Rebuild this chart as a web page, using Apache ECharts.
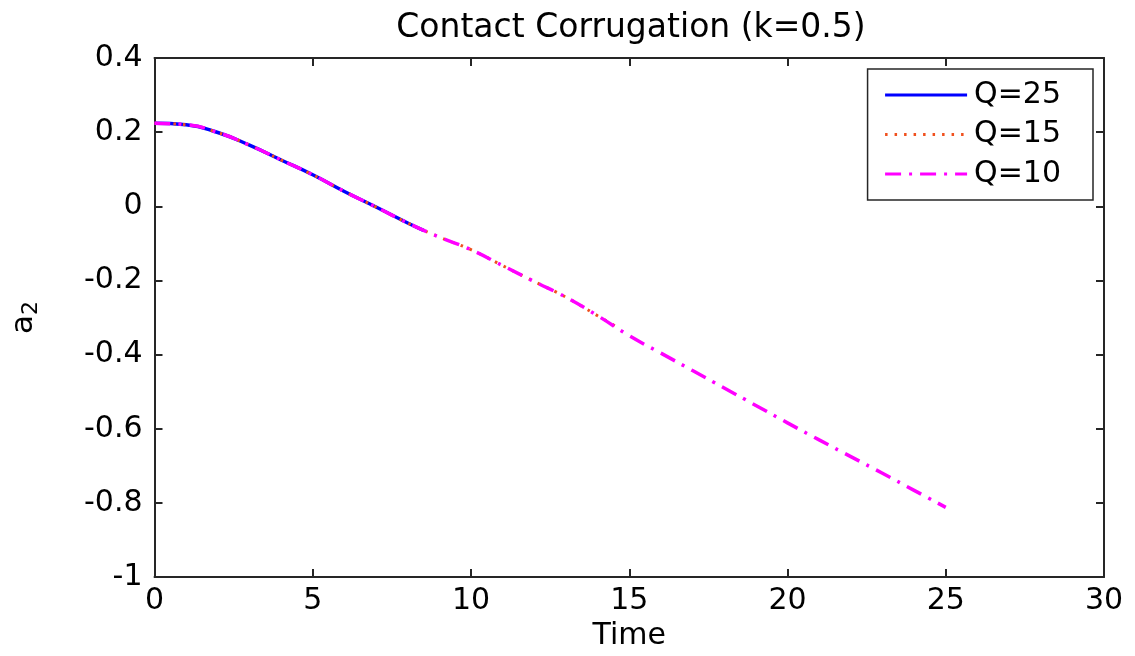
<!DOCTYPE html>
<html>
<head>
<meta charset="utf-8">
<title>Contact Corrugation</title>
<script src="https://cdn.jsdelivr.net/npm/echarts@6/dist/echarts.min.js"></script>
<style>
  html, body { margin: 0; padding: 0; background: #fff; }
  #chart { width: 1135px; height: 656px; }
</style>
</head>
<body>
<div id="chart"></div>
<script>
// values
var timeQ25 = [0, 1, 2, 3, 4, 5, 6, 7, 8, 8.5]
var a2Q25 = [0.224, 0.220, 0.199, 0.165, 0.125, 0.085, 0.040, -0.002, -0.045, -0.065]

var timeQ15 = [0, 1, 2, 3, 4, 5, 6, 7, 8, 9, 10, 11, 12, 13, 14, 14.7]
var a2Q15 = [0.224, 0.220, 0.199, 0.165, 0.125, 0.085, 0.040, -0.002, -0.045, -0.083,
  -0.117, -0.160, -0.203, -0.245, -0.295, -0.330]

var timeQ10 = [0, 1, 2, 3, 4, 5, 6, 7, 8, 9, 10, 11, 12, 13, 14, 15, 16, 17, 18, 19, 20, 21, 22, 23, 24, 25]
var a2Q10 = [0.224, 0.220, 0.199, 0.165, 0.125, 0.085, 0.040, -0.002, -0.045, -0.083,
  -0.117, -0.160, -0.203, -0.245, -0.295, -0.349, -0.396, -0.443, -0.490, -0.537,
  -0.584, -0.630, -0.675, -0.720, -0.766, -0.812]

var seriesNames = ['Q=25', 'Q=15', 'Q=10']

function pairs (xs, ys) {
  var out = []
  for (var i = 0; i < xs.length; i++) {
    out.push([xs[i], ys[i]])
  }
  return out
}

var font = 'DejaVu Sans, Liberation Sans, sans-serif'
var axisColor = '#262626'

var chart = echarts.init(document.getElementById('chart'))

var option = {
  backgroundColor: '#fff',
  animation: false,
  title: {
    text: 'Contact Corrugation (k=0.5)',
    left: 626,
    textAlign: 'center',
    top: 7,
    textStyle: { fontFamily: font, fontSize: 33, fontWeight: 'normal', color: '#000' }
  },
  legend: {
    data: seriesNames,
    orient: 'vertical',
    right: 42,
    top: 69,
    itemWidth: 82,
    itemHeight: 14,
    itemGap: 9.5,
    padding: [11, 32, 11, 16],
    borderColor: axisColor,
    borderWidth: 1.5,
    itemStyle: { color: 'transparent', borderWidth: 0 },
    lineStyle: { width: 3 },
    textStyle: { fontFamily: font, fontSize: 30, lineHeight: 30, color: '#000', padding: [0, 0, 0, 2] }
  },
  grid: {
    left: 153,
    right: 31,
    top: 58,
    bottom: 76
  },
  xAxis: [
    {
      type: 'value',
      min: 0,
      max: 30,
      interval: 5,
      name: 'Time',
      nameLocation: 'middle',
      nameGap: 43,
      nameTextStyle: { fontFamily: font, fontSize: 30, color: '#000' },
      axisLine: { show: true, onZero: false, lineStyle: { color: axisColor, width: 2 } },
      axisTick: { inside: true, length: 8, lineStyle: { color: axisColor, width: 2 } },
      axisLabel: { fontFamily: font, fontSize: 30, color: '#000', margin: 9 },
      splitLine: { show: false }
    },
    {
      type: 'value',
      position: 'top',
      min: 0,
      max: 30,
      interval: 5,
      axisLine: { show: true, onZero: false, lineStyle: { color: axisColor, width: 2 } },
      axisTick: { inside: true, length: 8, lineStyle: { color: axisColor, width: 2 } },
      axisLabel: { show: false },
      splitLine: { show: false }
    }
  ],
  yAxis: [
    {
      type: 'value',
      min: -1,
      max: 0.4,
      interval: 0.2,
      name: 'a{sub|2}',
      nameLocation: 'middle',
      nameRotate: 90,
      nameGap: 112,
      nameTextStyle: {
        fontFamily: font,
        fontSize: 31,
        color: '#000',
        rich: {
          sub: { fontFamily: font, fontSize: 22, color: '#000', verticalAlign: 'bottom', padding: [16, 0, 0, 0] }
        }
      },
      axisLine: { show: true, onZero: false, lineStyle: { color: axisColor, width: 2 } },
      axisTick: { inside: true, length: 8, lineStyle: { color: axisColor, width: 2 } },
      axisLabel: {
        fontFamily: font,
        fontSize: 30,
        color: '#000',
        margin: 12,
        formatter: function (v) {
          var r = Math.round(v * 10) / 10
          return String(r)
        }
      },
      splitLine: { show: false }
    },
    {
      type: 'value',
      position: 'right',
      min: -1,
      max: 0.4,
      interval: 0.2,
      axisLine: { show: true, onZero: false, lineStyle: { color: axisColor, width: 2 } },
      axisTick: { inside: true, length: 8, lineStyle: { color: axisColor, width: 2 } },
      axisLabel: { show: false },
      splitLine: { show: false }
    }
  ],
  series: [
    {
      name: seriesNames[0],
      type: 'line',
      data: pairs(timeQ25, a2Q25),
      smooth: true,
      showSymbol: false,
      symbol: 'none',
      color: '#0000ff',
      lineStyle: { color: '#0000ff', width: 3.5, type: 'solid' },
      z: 2
    },
    {
      name: seriesNames[1],
      type: 'line',
      data: pairs(timeQ15, a2Q15),
      smooth: true,
      showSymbol: false,
      symbol: 'none',
      color: '#f0501e',
      lineStyle: { color: '#f0501e', width: 3, type: [2.5, 7] },
      z: 3
    },
    {
      name: seriesNames[2],
      type: 'line',
      data: pairs(timeQ10, a2Q10),
      smooth: true,
      showSymbol: false,
      symbol: 'none',
      color: '#ff00ff',
      lineStyle: { color: '#ff00ff', width: 3.5, type: [16, 8, 3, 8] },
      z: 4
    }
  ]
}

chart.setOption(option)
</script>
</body>
</html>
